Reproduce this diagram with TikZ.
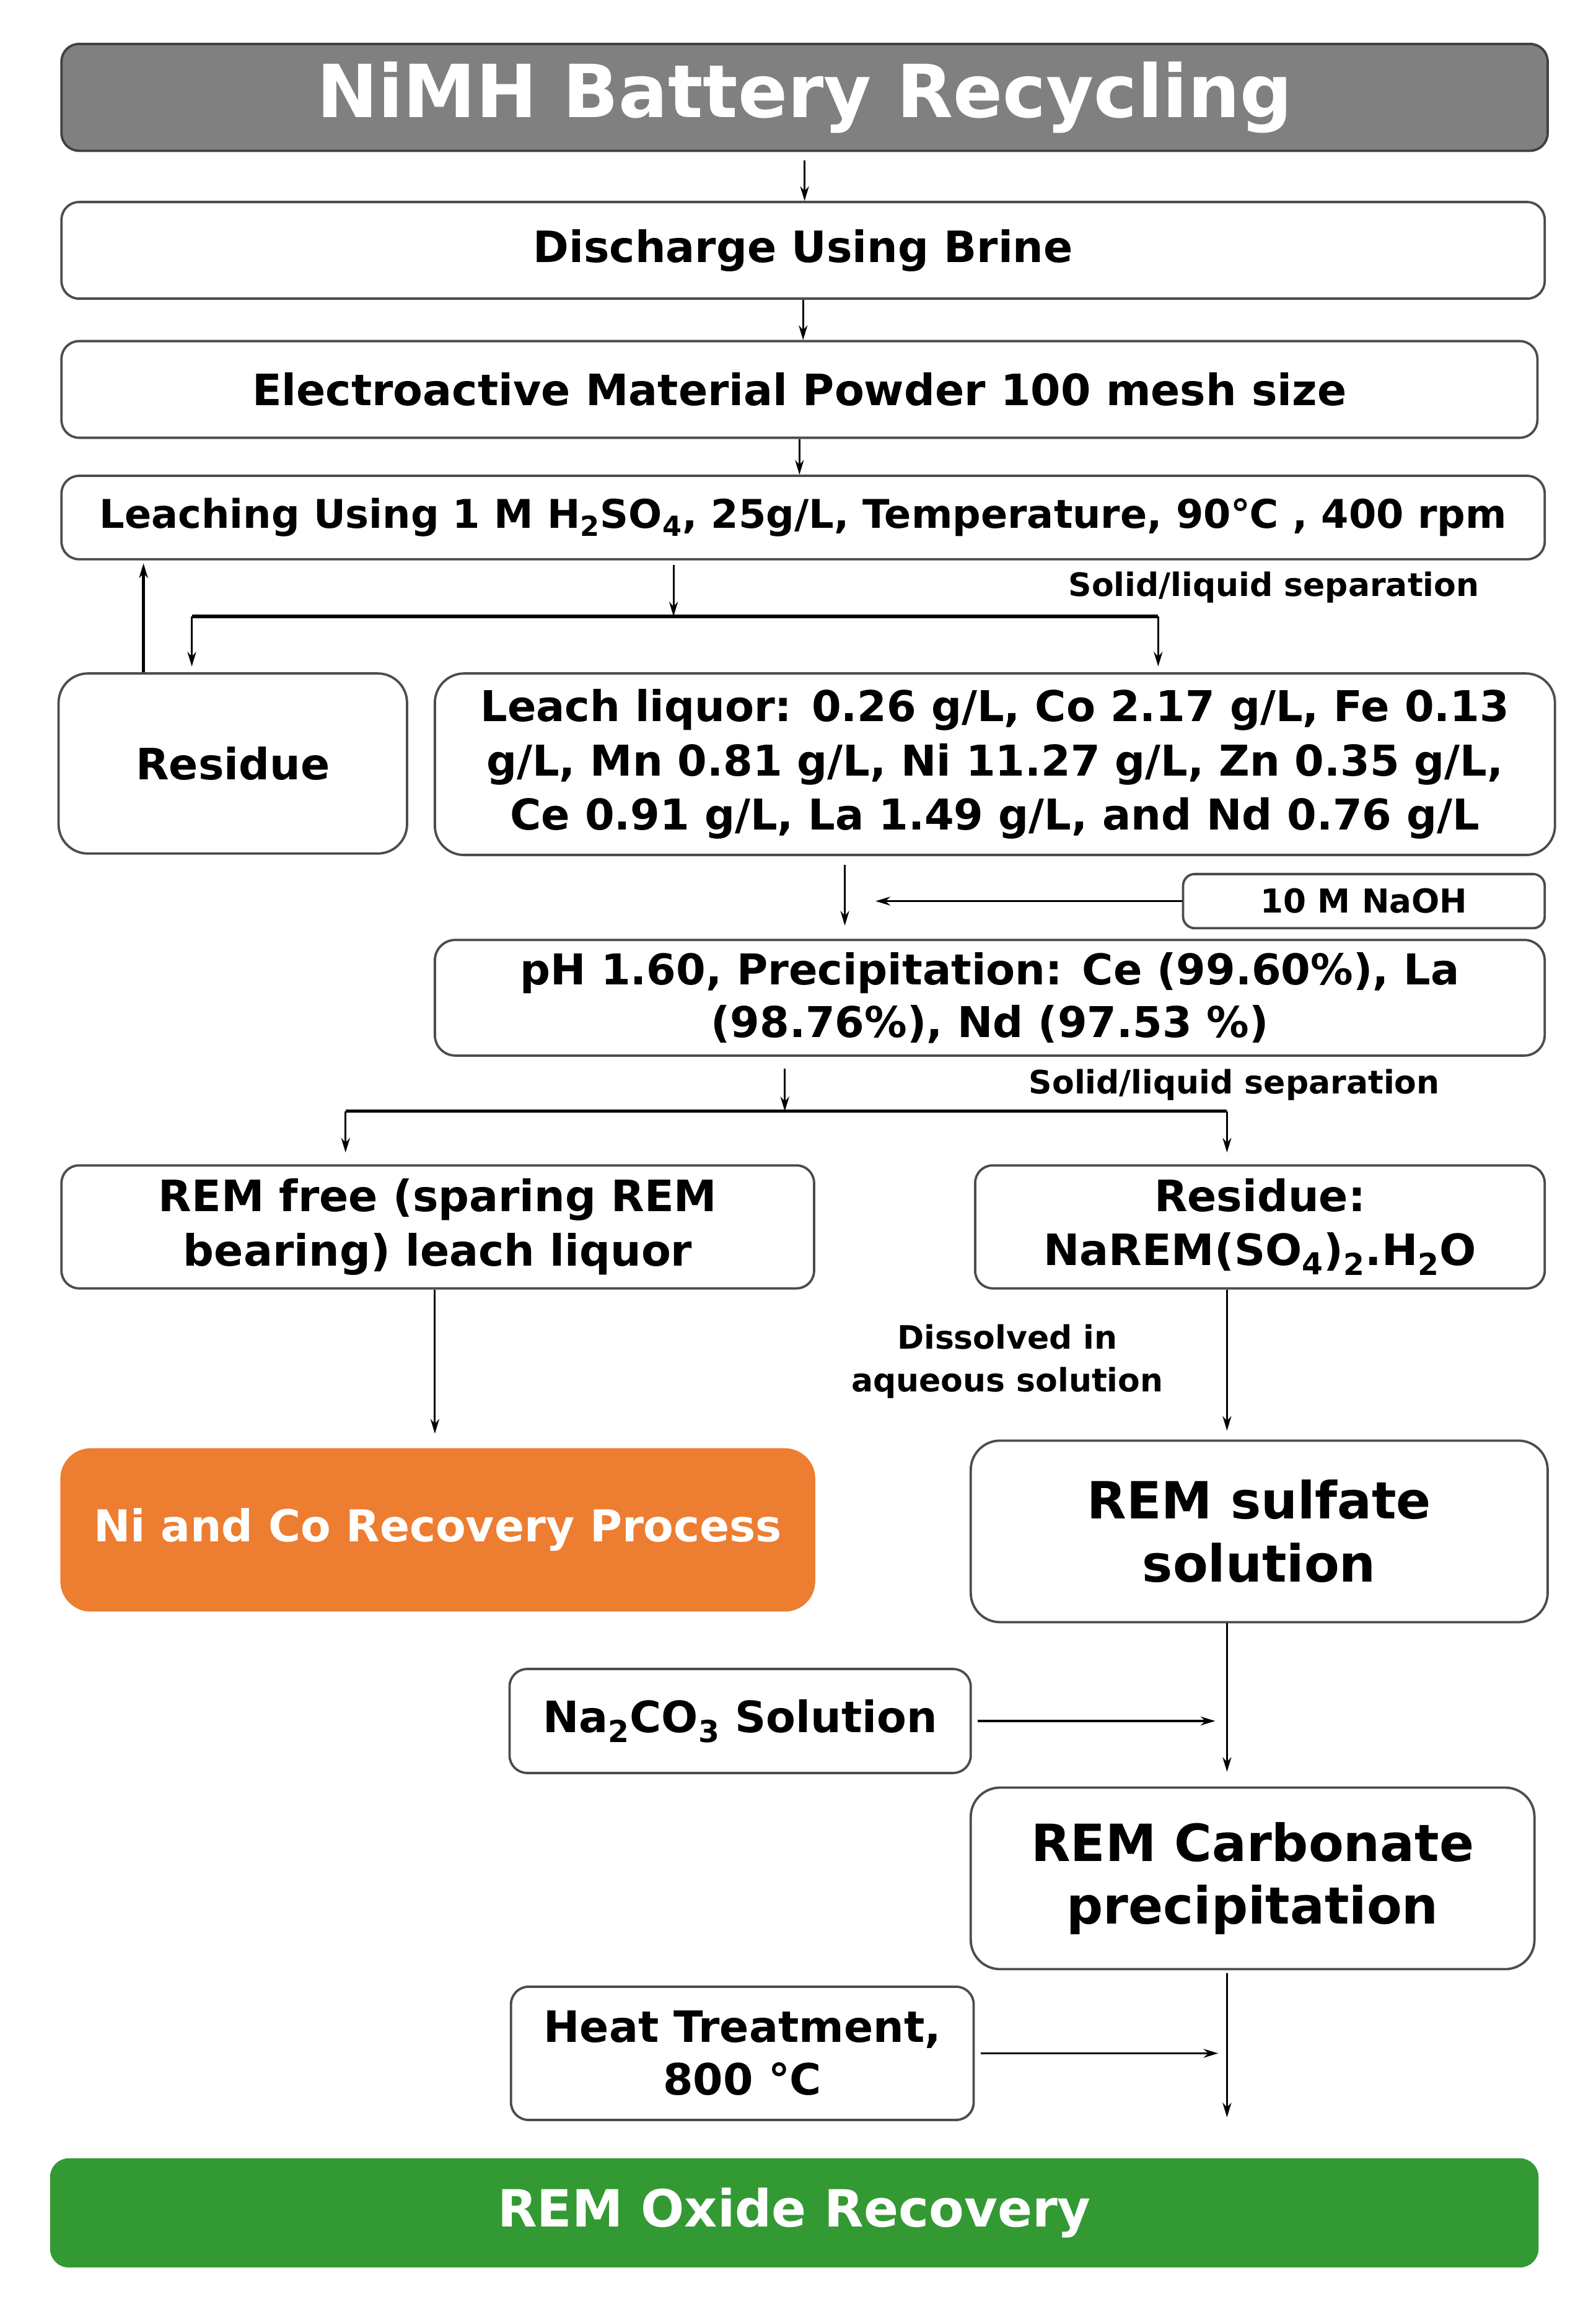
\documentclass[tikz,border=0pt]{standalone}
\usepackage{fontspec}
\setmainfont{DejaVu Sans}
\usetikzlibrary{arrows.meta}

\definecolor{titlegray}{RGB}{128,128,128}
\definecolor{niorange}{RGB}{237,125,49}
\definecolor{oxgreen}{RGB}{51,153,51}
\newcommand{\fsz}[2]{\fontsize{#1}{#2}\selectfont\bfseries}

\tikzset{
  box/.style={draw=black!70, line width=1.6pt, rounded corners=12pt, fill=white,
    align=center, inner sep=0pt},
  flow/.style={-{Stealth[length=10pt,width=6pt]}, line width=1.2pt},
  split/.style={line width=2.2pt},
  note/.style={align=center, font=\fsz{22}{29}},
}

\begin{document}
\begin{tikzpicture}[x=1pt,y=-1pt]

\useasboundingbox (0,0) rectangle (1090,1579.2);

% main column
\node [box, fill=titlegray, draw=black!75, minimum width=1015pt, minimum height=73pt,
  text=white, font=\fsz{50}{56}] (title) at (549.5,66.5) {NiMH Battery Recycling};
\node [box, minimum width=1013pt, minimum height=66pt, font=\fsz{29.5}{37}]
  (discharge) at (548.5,171) {Discharge Using Brine};
\node [box, minimum width=1008pt, minimum height=66pt, font=\fsz{29.5}{37}]
  (powder) at (546,266) {Electroactive Material Powder 100 mesh size};
\node [box, minimum width=1013pt, minimum height=57pt, font=\fsz{27}{35}]
  (leaching) at (548.5,353.5) {Leaching Using 1 M H\textsubscript{2}SO\textsubscript{4}, 25g/L, Temperature, 90℃ , 400 rpm};

\node [box, rounded corners=20pt, minimum width=238pt, minimum height=123pt, font=\fsz{29.5}{37}]
  (residue) at (159,521.5) {Residue};
\node [box, rounded corners=20pt, minimum width=765pt, minimum height=124pt, font=\fsz{29}{37}]
  (liquor) at (679.5,522) {Leach liquor: 0.26 g/L, Co 2.17 g/L, Fe 0.13\\
  g/L, Mn 0.81 g/L, Ni 11.27 g/L, Zn 0.35 g/L,\\
  Ce 0.91 g/L, La 1.49 g/L, and Nd 0.76 g/L};

\node [box, rounded corners=8pt, minimum width=247pt, minimum height=37pt, font=\fsz{22.5}{27}]
  (naoh) at (931.5,615.5) {10 M NaOH};
\node [box, rounded corners=14pt, minimum width=758pt, minimum height=79pt, font=\fsz{29}{36}]
  (precip) at (676,681.5) {pH 1.60, Precipitation: Ce (99.60\%), La\\(98.76\%), Nd (97.53 \%)};

% two branches
\node [box, minimum width=514pt, minimum height=84pt, font=\fsz{29.5}{37}]
  (remfree) at (299,838) {REM free (sparing REM\\bearing) leach liquor};
\node [box, minimum width=389pt, minimum height=84pt, font=\fsz{29.5}{37}]
  (sulres) at (860.5,838) {Residue:\\NaREM(SO\textsubscript{4})\textsubscript{2}.H\textsubscript{2}O};

\node [box, fill=niorange, draw=niorange, rounded corners=20pt, minimum width=514pt,
  minimum height=110pt, text=white, font=\fsz{30}{37}] (nico) at (299,1045) {Ni and Co Recovery Process};
\node [box, rounded corners=20pt, minimum width=394pt, minimum height=124pt, font=\fsz{35}{43}]
  (sulfate) at (860,1046) {REM sulfate\\solution};

\node [box, minimum width=315pt, minimum height=71pt, font=\fsz{29.5}{37}]
  (naco) at (505.5,1175.5) {Na\textsubscript{2}CO\textsubscript{3} Solution};
\node [box, rounded corners=20pt, minimum width=385pt, minimum height=124pt, font=\fsz{35}{43}]
  (carbonate) at (855.5,1283) {REM Carbonate\\precipitation};
\node [box, minimum width=316pt, minimum height=91pt, font=\fsz{29.5}{36}]
  (heat) at (507,1402.5) {Heat Treatment,\\800 °C};

\node [box, fill=oxgreen, draw=oxgreen, minimum width=1015pt, minimum height=73pt,
  text=white, font=\fsz{35}{42}] (oxide) at (542.5,1511.5) {REM Oxide Recovery};

% labels
\node [note] (sep1) at (870,401) {Solid/liquid separation};
\node [note] (sep2) at (843,741) {Solid/liquid separation};
\node [note] (dissolve) at (688,930) {Dissolved in\\aqueous solution};

% junctions
\coordinate (fork1) at (460,421);
\coordinate (toresidue) at (131,421);
\coordinate (toliquor) at (791,421);
\coordinate (recycle) at (98,0);
\coordinate (drop) at (577,0);
\coordinate (naohend) at (598,0);
\coordinate (fork2) at (536,759);
\coordinate (toremfree) at (236,759);
\coordinate (tosulres) at (838,759);
\coordinate (rem) at (838,0);
\coordinate (nicol) at (297,0);

% connectors
\draw [flow, shorten <=6pt] (title.south) -- (title.south |- discharge.north);
\draw [flow] (discharge.south) -- (discharge.south |- powder.north);
\draw [flow] (powder.south) -- (powder.south |- leaching.north);

\draw [flow, shorten <=3pt] (leaching.south -| fork1) -- (fork1);
\draw [split] (toresidue) -- (toliquor);
\draw [flow, shorten >=4pt] (toresidue) -- (toresidue |- residue.north);
\draw [flow, shorten >=4pt] (toliquor) -- (toliquor |- liquor.north);
\draw [flow, line width=2pt, shorten >=2pt] (residue.north -| recycle) -- (leaching.south -| recycle);

\draw [flow, shorten <=6pt, shorten >=9pt] (liquor.south -| drop) -- (precip.north -| drop);
\draw [flow, line width=1.6pt] (naoh.west) -- (naoh.west -| naohend);

\draw [flow, shorten <=8pt] (precip.south -| fork2) -- (fork2);
\draw [split] (toremfree) -- (tosulres);
\draw [flow, shorten >=8pt] (toremfree) -- (toremfree |- remfree.north);
\draw [flow, shorten >=8pt] (tosulres) -- (tosulres |- sulres.north);

\draw [flow, shorten >=10pt] (remfree.south -| nicol) -- (nico.north -| nicol);
\draw [flow, shorten >=6pt] (sulres.south -| rem) -- (sulfate.north -| rem);
\draw [flow, shorten >=10pt] (sulfate.south -| rem) -- (carbonate.north -| rem);
\draw [flow, line width=1.6pt, shorten <=4pt, shorten >=8pt] (naco.east) -- (naco.east -| rem);
\draw [flow, shorten <=2pt, shorten >=28pt] (carbonate.south -| rem) -- (oxide.north -| rem);
\draw [flow, line width=1.6pt, shorten <=4pt, shorten >=6pt] (heat.east) -- (heat.east -| rem);

\end{tikzpicture}
\end{document}
